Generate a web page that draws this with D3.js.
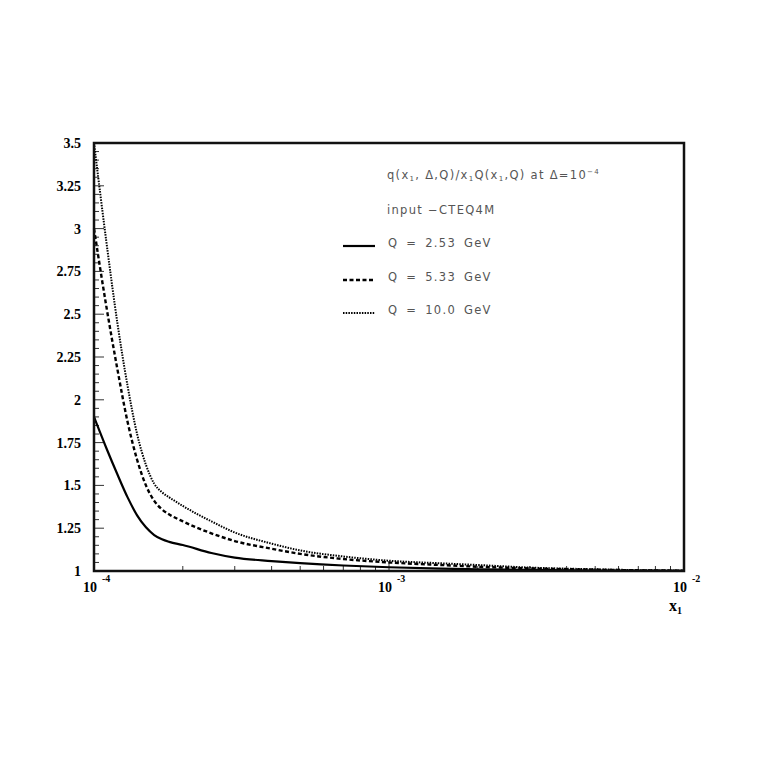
<!DOCTYPE html>
<html><head><meta charset="utf-8">
<script src="https://cdn.jsdelivr.net/npm/d3@7"></script>
<style>body{margin:0;background:#fff}svg{display:block}</style>
</head><body>
<script>
const xValues = [1e-4,1.1e-4,1.2e-4,1.3e-4,1.4e-4,1.5e-4,1.6e-4,1.7e-4,1.8e-4,2e-4,2.5e-4,3e-4,4e-4,5e-4,7e-4,1e-3,1.5e-3,2e-3,3e-3,5e-3,7e-3,1e-2];
const q253 = [1.90,1.72,1.565,1.43,1.325,1.255,1.21,1.185,1.17,1.152,1.105,1.078,1.058,1.046,1.032,1.022,1.014,1.010,1.006,1.003,1.002,1.001];
const q533 = [3.00,2.55,2.18,1.87,1.65,1.50,1.41,1.36,1.33,1.29,1.22,1.175,1.13,1.10,1.07,1.05,1.035,1.025,1.015,1.008,1.004,1.002];
const q100 = [3.50,2.93,2.45,2.08,1.80,1.62,1.51,1.46,1.43,1.38,1.29,1.225,1.16,1.12,1.085,1.06,1.045,1.035,1.02,1.01,1.005,1.002];
const yTickLabels = ["1","1.25","1.5","1.75","2","2.25","2.5","2.75","3","3.25","3.5"];
const xTickExps = ["-4","-3","-2"];
const seriesNames = ["Q = 2.53 GeV","Q = 5.33 GeV","Q = 10.0 GeV"];

const W=763,H=763;
const svg=d3.select("body").append("svg").attr("width",W).attr("height",H);
const x=d3.scaleLog().domain([1e-4,1e-2]).range([94,684]);
const y=d3.scaleLinear().domain([1,3.5]).range([571,143]);

const g=svg.append("g");
const yMinor=d3.range(1,3.5001,0.05);
g.selectAll(".ym").data(yMinor).enter().append("line")
 .attr("x1",x(1e-4)).attr("x2",d=>x(1e-4)+(Math.abs(d*4-Math.round(d*4))<1e-6?10:5))
 .attr("y1",d=>y(d)).attr("y2",d=>y(d)).attr("stroke","#333").attr("stroke-width",1);
const xMinor=[];
for(let e=-4;e<-2;e++){for(let m=1;m<10;m++)xMinor.push(m*Math.pow(10,e));}
xMinor.push(1e-2);
g.selectAll(".xm").data(xMinor).enter().append("line")
 .attr("x1",d=>x(d)).attr("x2",d=>x(d))
 .attr("y1",y(1)).attr("y2",d=>{const l=Math.log10(d);return y(1)-(Math.abs(l-Math.round(l))<1e-6?10:5);})
 .attr("stroke","#333").attr("stroke-width",1);

const line=d3.line().x((d,i)=>x(xValues[i])).y(d=>y(d)).curve(d3.curveMonotoneX);
const styles=[{w:2.2,dash:null},{w:2.4,dash:"4,2.5"},{w:2,dash:"1.5,1.2"}];
[q253,q533,q100].forEach((s,k)=>{
  svg.append("path").datum(s).attr("d",line).attr("fill","none").attr("stroke","#000")
   .attr("stroke-width",styles[k].w).attr("stroke-dasharray",styles[k].dash);
});

svg.append("rect").attr("x",94).attr("y",143).attr("width",590).attr("height",428)
 .attr("fill","none").attr("stroke","#111").attr("stroke-width",2.5);

const sf="Liberation Serif, serif";
svg.selectAll(".yl").data(yTickLabels).enter().append("text")
 .attr("x",81).attr("y",d=>y(+d)+5).attr("text-anchor","end")
 .attr("font-family",sf).attr("font-weight","bold").attr("font-size",14)
 .text(d=>d);
const xl=svg.selectAll(".xl").data(xTickExps).enter().append("text")
 .attr("x",d=>x(Math.pow(10,+d))-11).attr("y",592)
 .attr("font-family",sf).attr("font-weight","bold").attr("font-size",14);
xl.append("tspan").text("10");
xl.append("tspan").attr("dx",5).attr("dy",-10).attr("font-size",10).text(d=>d);
const xt=svg.append("text").attr("x",669).attr("y",611)
 .attr("font-family",sf).attr("font-weight","bold").attr("font-size",16);
xt.append("tspan").text("x");
xt.append("tspan").attr("dy",3).attr("font-size",10).text("1");

const lf="DejaVu Sans, sans-serif", lc="#555", ls=1.3, fs=11.5;
const t1=svg.append("text").attr("x",387).attr("y",179).attr("font-family",lf).attr("font-size",fs).attr("fill",lc).attr("letter-spacing",ls);
t1.append("tspan").text("q(x");
t1.append("tspan").attr("dy",2).attr("font-size",7).text("1");
t1.append("tspan").attr("dy",-2).text(", Δ,Q)/x");
t1.append("tspan").attr("dy",2).attr("font-size",7).text("1");
t1.append("tspan").attr("dy",-2).text("Q(x");
t1.append("tspan").attr("dy",2).attr("font-size",7).text("1");
t1.append("tspan").attr("dy",-2).text(",Q) at Δ=10");
t1.append("tspan").attr("dy",-5).attr("font-size",7).text("−4");
svg.append("text").attr("x",387).attr("y",214).attr("font-family",lf).attr("font-size",fs).attr("fill",lc).attr("letter-spacing",ls).text("input −CTEQ4M");
const ly=[246,280,313];
seriesNames.forEach((n,k)=>{
  svg.append("line").attr("x1",343).attr("x2",375).attr("y1",ly[k]).attr("y2",ly[k]).attr("stroke","#000")
   .attr("stroke-width",styles[k].w).attr("stroke-dasharray",styles[k].dash);
  svg.append("text").attr("x",388).attr("y",ly[k]+1).attr("font-family",lf).attr("font-size",fs).attr("fill",lc)
   .attr("letter-spacing",ls).attr("word-spacing",3).text(n);
});
</script>
</body></html>
